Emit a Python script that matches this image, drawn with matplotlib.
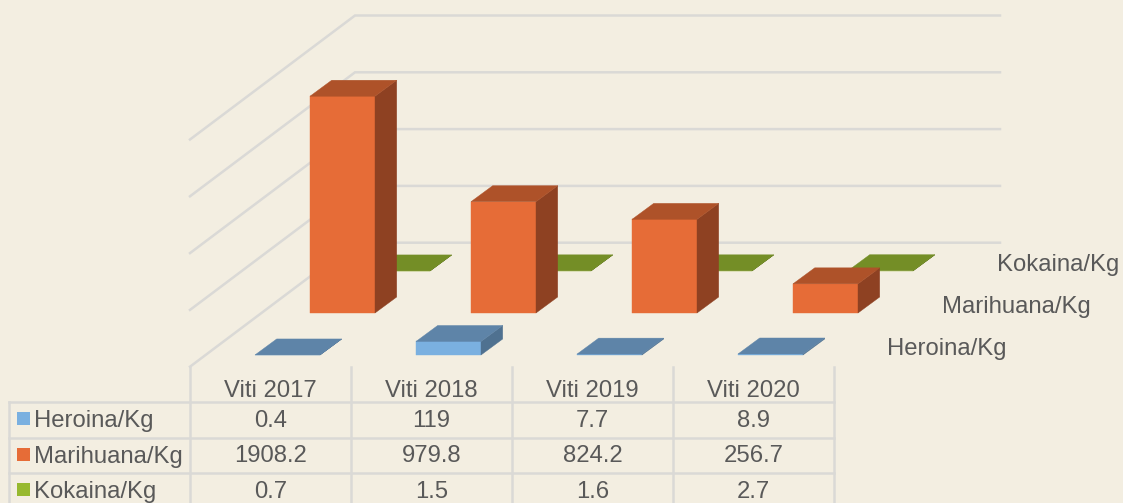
import matplotlib
matplotlib.use('Agg')
import matplotlib.pyplot as plt

years = ['Viti 2017', 'Viti 2018', 'Viti 2019', 'Viti 2020']
series = ['Heroina/Kg', 'Marihuana/Kg', 'Kokaina/Kg']
heroina = [0.4, 119, 7.7, 8.9]
marihuana = [1908.2, 979.8, 824.2, 256.7]
kokaina = [0.7, 1.5, 1.6, 2.7]
table_text = [['0.4', '119', '7.7', '8.9'],
              ['1908.2', '979.8', '824.2', '256.7'],
              ['0.7', '1.5', '1.6', '2.7']]
grid_vals = [0, 500, 1000, 1500, 2000]

bg = '#F3EEE1'
grid_col = '#DAD9D6'
txt_col = '#595959'
# front, top, side
cols = {'Heroina/Kg': ('#7AB0E0', '#5E84A8', '#4F7190'),
        'Marihuana/Kg': ('#E66C37', '#AE5229', '#8E4122'),
        'Kokaina/Kg': ('#97B92F', '#748E26', '#5F7520')}

plt.rcParams['font.family'] = ['Liberation Sans', 'DejaVu Sans']
fig = plt.figure(figsize=(11.23, 5.03), dpi=100, facecolor=bg)
# axes in image pixels
ax = fig.add_axes([0, 0, 1, 1])
ax.set_xlim(0, 1123)
ax.set_ylim(503, 0)
ax.axis('off')

scale = 56.8 / 500  # px per kg
cat_step = 161
bar_w = 65
dep_x, dep_y = 21.7, 16
ser_x, ser_y = 55, 42
fs = 17.2


def val_y(base, v):
    return base - v * scale


# back wall and left wall
for g in grid_vals:
    yb = val_y(242.7, g)
    ax.plot([190, 355, 1000], [yb + 124, yb, yb], color=grid_col, lw=1.8, zorder=1,
            solid_joinstyle='miter')


def bar(x0, base, v, name, z):
    front, top, side = cols[name]
    y1 = val_y(base, v)
    x1 = x0 + bar_w
    ax.fill([x0, x1, x1, x0], [base, base, y1, y1], color=front, lw=0.3, zorder=z)
    ax.fill([x1, x1 + dep_x, x1 + dep_x, x1], [base, base - dep_y, y1 - dep_y, y1],
            color=side, lw=0.3, zorder=z)
    ax.fill([x0, x1, x1 + dep_x, x0 + dep_x], [y1, y1, y1 - dep_y, y1 - dep_y],
            color=top, lw=0.3, zorder=z)


# back series first so the front ones cover it
all_vals = [heroina, marihuana, kokaina]
for s in [2, 1, 0]:
    for c in range(4):
        x0 = 255 + c * cat_step + s * ser_x
        base = 355 - s * ser_y
        bar(x0, base, all_vals[s][c], series[s], 5 + (2 - s))

ax.text(887, 349, series[0], fontsize=fs, color=txt_col, va='center', zorder=9)
ax.text(942.5, 307, series[1], fontsize=fs, color=txt_col, va='center', zorder=9)
ax.text(997, 265, series[2], fontsize=fs, color=txt_col, va='center', zorder=9)

# data table
col_x = [190, 351, 512, 673, 834]
row_y = [402, 437.5, 473]
for x in col_x:
    ax.plot([x, x], [367, 503], color=grid_col, lw=1.8, zorder=2)
ax.plot([9, 9], [402, 503], color=grid_col, lw=1.8, zorder=2)
for y in row_y:
    ax.plot([9, 834], [y, y], color=grid_col, lw=1.8, zorder=2)

for c in range(4):
    xc = (col_x[c] + col_x[c + 1]) / 2
    ax.text(xc, 391, years[c], fontsize=fs, color=txt_col, ha='center', va='center')
    for r in range(3):
        ax.text(xc, row_y[r] + 19, table_text[r][c], fontsize=fs, color=txt_col,
                ha='center', va='center')

for r in range(3):
    yc = row_y[r] + 16.5
    ax.fill([17, 30, 30, 17], [yc - 6.5, yc - 6.5, yc + 6.5, yc + 6.5],
            color=cols[series[r]][0], lw=0, zorder=4)
    ax.text(33.5, yc + 2.5, series[r], fontsize=fs, color=txt_col, va='center')

fig.savefig('out.png', dpi=100, facecolor=bg)
